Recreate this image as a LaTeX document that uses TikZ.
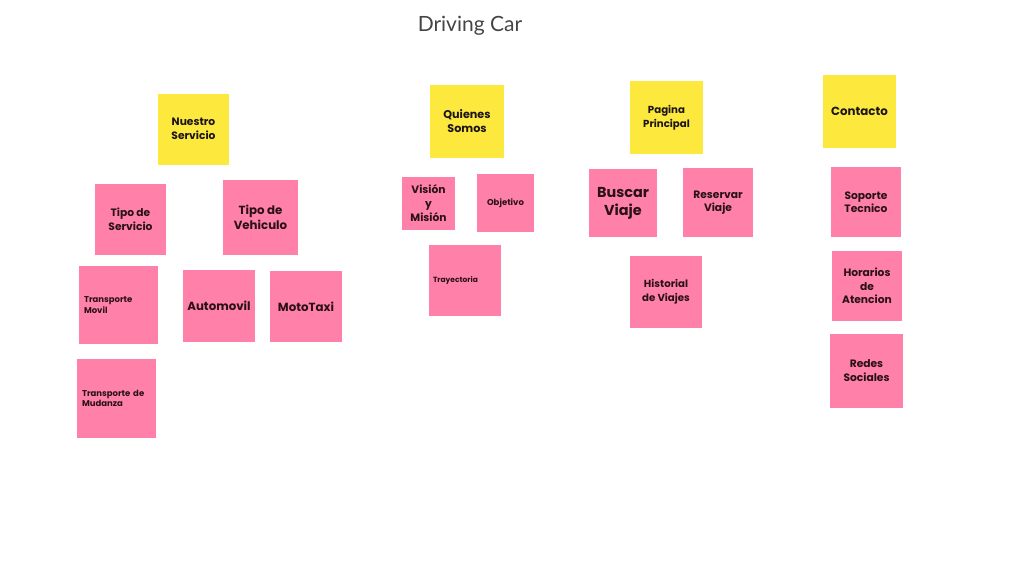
\documentclass[tikz,border=0pt]{standalone}
\usepackage{fontspec}
\setmainfont{Poppins}
\newfontfamily\titlefont{Lato}
\definecolor{noteyellow}{HTML}{FDE93E}
\definecolor{notepink}{HTML}{FF80A9}
\definecolor{inkdark}{HTML}{1C1416}
\definecolor{inkpink}{HTML}{2A1119}
\definecolor{titlegray}{HTML}{454545}
\tikzset{
  note/.style={inner sep=0pt, align=center, font=\bfseries},
  ynote/.style={note, fill=noteyellow, text=inkdark},
  pnote/.style={note, fill=notepink, text=inkpink},
  sz/.style 2 args={minimum width=#1pt, minimum height=#2pt},
}
\begin{document}
\begin{tikzpicture}[x=1pt,y=-1pt]
\useasboundingbox[fill=white] (0,0) rectangle (1024,576);
\node[font=\titlefont\fontsize{21}{25}\selectfont, text=titlegray] (title) at (470,25.5) {Driving Car};

% Nuestro Servicio column
\node[ynote, sz={71}{71}, font=\fontsize{10.7}{14}\selectfont\bfseries] (ns) at (193.5,129) {Nuestro\\Servicio};
\node[pnote, sz={71}{71}, font=\fontsize{10.7}{14}\selectfont\bfseries] (ts) at (130.5,219.5) {Tipo de\\Servicio};
\node[pnote, sz={75}{75}, font=\fontsize{11.8}{14.5}\selectfont\bfseries] (tv) at (260.5,217.5) {Tipo de\\Vehiculo};
\node[pnote, sz={79}{78}, text width=69pt, inner xsep=5pt, align=left, font=\fontsize{8.5}{10.5}\selectfont\bfseries] (tm) at (118.5,305) {Transporte\\Movil};
\node[pnote, sz={72}{72}, font=\fontsize{11.8}{14}\selectfont\bfseries] (au) at (219,306) {Automovil};
\node[pnote, sz={72}{71}, font=\fontsize{11.8}{14}\selectfont\bfseries] (mt) at (306,306.5) {MotoTaxi};
\node[pnote, sz={79}{79}, text width=73pt, inner xsep=3pt, align=left, font=\fontsize{8.5}{10.5}\selectfont\bfseries] (tdm) at (116.5,398.5) {\hspace*{2pt}Transporte de\\\hspace*{2pt}Mudanza};

% Quienes Somos column
\node[ynote, sz={74}{73}, font=\fontsize{11.2}{14}\selectfont\bfseries] (qs) at (467,121.5) {Quienes\\Somos};
\node[pnote, sz={53}{53}, font=\fontsize{10.7}{14}\selectfont\bfseries] (vm) at (428.5,203.5) {Visión\\y\\Misión};
\node[pnote, sz={57}{58}, font=\fontsize{8.5}{10}\selectfont\bfseries] (ob) at (505.5,203) {Objetivo};
\node[pnote, sz={72}{71}, text width=70pt, inner xsep=1pt, align=left, font=\fontsize{7.5}{9}\selectfont\bfseries] (tr) at (465,280.5) {\hspace*{3pt}Trayectoria};

% Pagina Principal column
\node[ynote, sz={73}{73}, font=\fontsize{10.2}{14}\selectfont\bfseries] (pp) at (666.5,117.5) {Pagina\\Principal};
\node[pnote, sz={68}{68}, font=\fontsize{14.4}{18}\selectfont\bfseries] (bv) at (623,203) {Buscar\\Viaje};
\node[pnote, sz={70}{69}, font=\fontsize{10.7}{13.5}\selectfont\bfseries] (rv) at (718,202.5) {Reservar\\Viaje};
\node[pnote, sz={72}{72}, font=\fontsize{10.2}{13.5}\selectfont\bfseries] (hv) at (666,292) {Historial\\de Viajes};

% Contacto column
\node[ynote, sz={73}{73}, font=\fontsize{11.8}{14}\selectfont\bfseries] (co) at (859.5,111.5) {Contacto};
\node[pnote, sz={70}{70}, font=\fontsize{10.7}{13.5}\selectfont\bfseries] (st) at (866,202) {Soporte\\Tecnico};
\node[pnote, sz={70}{70}, font=\fontsize{10.7}{13.5}\selectfont\bfseries] (ha) at (867,286) {Horarios\\de\\Atencion};
\node[pnote, sz={73}{74}, font=\fontsize{10.7}{14}\selectfont\bfseries] (rs) at (866.5,371) {Redes\\Sociales};
\end{tikzpicture}
\end{document}
